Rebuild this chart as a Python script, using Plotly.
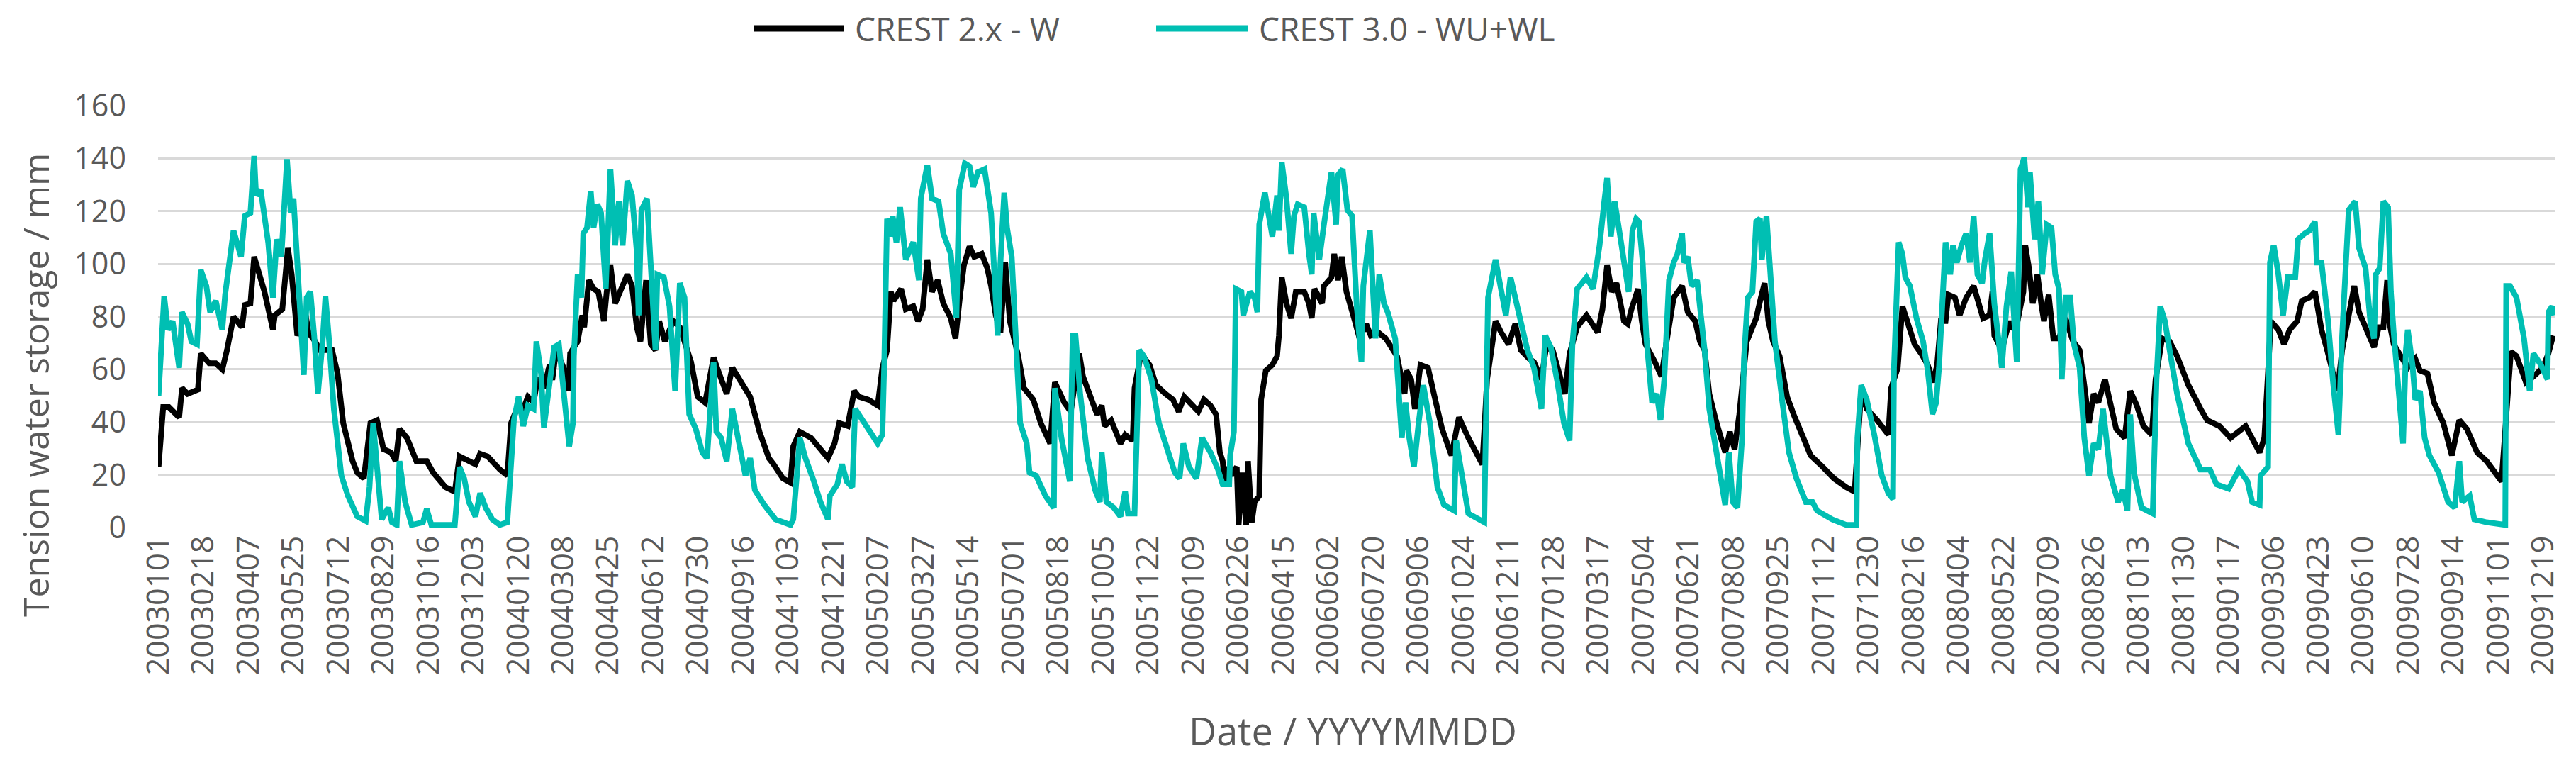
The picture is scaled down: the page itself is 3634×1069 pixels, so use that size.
import pandas as pd
import plotly.graph_objects as go

# ---- data (day offset from 2003-01-01, value in mm) ----
black_day = [0,5,11,22,25,31,42,45,54,61,68,73,80,89,92,98,102,107,113,122,124,132,138,142,146,148,157,160,167,172,180,185,191,197,207,212,219,226,233,240,248,253,257,265,275,286,293,306,316,
             321,328,338,343,351,364,372,376,381,389,394,400,404,412,417,420,424,432,437,439,447,452,454,459,464,469,475,478,482,487,492,500,505,510,514,520,525,530,534,540,549,556,568,575,583,592,598,606,612,621,631,641,651,
             656,666,674,677,684,696,714,721,726,735,742,747,757,767,769,772,777,781,784,792,797,805,810,815,820,825,831,837,845,850,855,859,865,870,878,884,888,893,898,903,908,917,923,933,941,951,956,966,973,
             982,986,991,1001,1006,1009,1016,1026,1031,1039,1041,1048,1057,1064,1074,1082,1088,1094,1109,1115,1122,1128,1132,1135,1137,1142,1146,1150,1152,1156,1160,1162,1166,1169,1174,1176,1181,1188,1193,1195,1198,1203,1208,1213,1222,1227,1230,1233,1241,1243,1251,1254,1258,1262,1267,1271,1276,1281,1288,1293,1301,1309,
             1321,1329,1331,1336,1340,1346,1354,1361,1369,1379,1387,1397,1412,1417,1423,1426,1432,1440,1447,1453,1462,1467,1475,1480,1487,1500,1505,1513,1523,1535,1540,1545,1550,1555,1563,1567,1571,1578,1582,1586,1596,1603,1608,1616,1625,1631,1639,
             1644,1649,1654,1661,1671,1676,1681,1686,1694,1699,1704,1709,1713,1717,1722,1729,1737,1744,1754,1762,1775,1787,1800,1809,1816,1822,1833,1845,1848,1855,1860,1865,1873,1880,1887,1893,1897,1901,1906,1909,1916,1921,1928,1936,1941,1946,1953,1956,1958,1966,1974,
             1976,1981,1989,1991,1995,1999,2004,2008,2011,2016,2021,2027,2034,2042,2049,2054,2059,2064,2069,2076,2082,2088,2097,2103,2110,2117,2126,2130,2137,2145,2153,2165,2178,2185,2198,2210,2226,2233,2241,2246,2250,2253,
             2261,2267,2273,2281,2286,2294,2300,2304,2307,2313,2319,2324,2329,2335,2342,2347,2354,2363,2368,2373,2377,2379,2384,2392,2399,2407,2412,2420,2427,2437,2446,2454,2462,2473,2483,2499,2502,2505,2509,2515,2525,2533,2543,2549,2554]
black_val = [23,45.7,45.7,41.8,52.9,50.7,52.3,66,62.3,62.3,60,67.3,80,76,84.4,85,102.7,97,89.4,75,80.5,82.8,106,96,80.5,72.8,80.5,74,70.6,67.3,67.3,67.3,58.4,39.6,25.2,20.8,18.6,39.6,40.7,29.7,28.5,25.2,37.4,34,25.2,25.2,20.8,15.3,13.6,
             27,25.8,24,28,27,22,19.7,39.6,44,45,49.6,47.4,56,54,61.7,56,67.3,60.6,51.8,66,70.6,80.5,76,93.8,90.5,89.4,78.3,89.4,99.4,85,89.4,96,91.6,76,70.6,93.8,69.5,67.3,78.3,70.6,78.3,76,62.8,49.6,47.4,64.5,58.4,50.7,60.6,55,49.6,36.3,26.3,
             24,18.6,17,30.8,36.3,34,26.3,31.9,39.6,38.5,51.8,49.6,48.5,46.3,51.8,60.6,67.3,89.4,86,90.5,82.8,83.9,78.3,82.8,101.6,89.4,93.8,85,79.4,71.7,88.3,99.4,106.6,102.7,103.8,98.3,91.6,80.5,74,100.5,78.3,65,52.9,48.5,39.6,31.9,55.1,47.4,44,
             66,57.3,52.9,42.9,46.3,38.5,40.7,31.9,35.2,33,52.9,66,61.7,54,50.7,48.5,44,49.6,44,48.5,46.3,42.9,28.5,25.2,16.4,23,20.8,23,1,20.8,1,25.2,2,9.7,12,48.5,59.5,61.7,65,72.8,94.9,85,79.4,89.4,89.4,85,79.4,90.5,85,91.6,94.9,103.8,93.8,102.7,89.4,85,78.3,71.7,77.2,72.8,74,71.7,
             65,50.7,59.5,56.2,45,61.7,60.6,49.6,37.4,27.4,41.8,34,24,56.2,70.6,78.3,74,69.5,77.2,67.3,64,62.8,56.2,68.4,67.3,50.7,66,76,80.5,74,82.8,99.4,89.4,92.7,78.3,77.2,82.8,90.5,78.3,69.5,62.8,57.3,69.5,87.2,91.6,81.7,78.3,
             70.6,67.3,50.7,40.7,28.5,36.3,29.7,42.9,70.6,75.1,79.4,87.2,92.7,78.3,70.6,65,49.6,42.9,34,27.4,23,18.6,15.3,13.6,51.8,45,40.7,35.2,52.9,60.6,83.9,78.3,69.5,66,61.7,55.1,61.7,78.3,78.3,88.3,87.2,80.5,87.2,91.6,86,79.4,80.5,89.4,72.8,67.3,78.3,
             76,75,89.4,107.1,98.3,85,96,85,78.3,88.3,71.7,71.7,79.4,70.6,67.3,54,39.6,50.7,47.4,56.2,47.4,37.4,34,51.8,46.3,38.5,35.2,56.2,71.7,70.6,65,54,45,40.7,38.5,34,38.5,34,28.5,34,56.2,78.3,
             75,69.5,75,78.3,86,87.2,89.4,80.5,75,67.3,59.5,51.8,67.3,79.4,91.6,81.7,76,68.4,76,76,93.8,78.3,69.5,65,60.6,64,59.5,58.4,47.4,39.6,27.4,40.7,37.4,28.5,25.2,17.5,34,45,66.7,65,55.1,57.3,60.6,66,72.8]

cyan_day = [0,6,10,15,22,25,31,35,41,45,51,55,61,68,71,80,88,92,98,102,104,109,117,122,126,131,137,141,144,148,155,158,162,166,170,175,178,182,187,195,202,212,221,225,229,233,238,245,249,254,257,263,270,282,286,291,316,
            321,326,331,338,343,349,356,364,372,379,384,389,394,400,403,408,411,417,422,427,432,438,442,443,447,451,453,457,461,464,468,472,477,482,487,491,495,500,505,510,512,515,521,526,530,532,539,545,551,556,561,566,573,580,585,592,595,600,606,612,619,626,631,636,646,
            658,674,677,684,690,699,706,714,716,724,729,734,740,743,752,759,767,772,774,777,781,783,787,791,797,805,811,813,820,825,832,837,845,851,854,860,865,869,874,881,888,895,898,902,905,910,915,919,926,929,936,946,955,956,963,972,975,978,
            983,991,999,1004,1006,1011,1019,1026,1031,1034,1041,1046,1051,1059,1067,1077,1084,1089,1093,1099,1107,1113,1122,1130,1135,1142,1143,1147,1149,1155,1157,1164,1169,1172,1174,1180,1188,1193,1195,1198,1203,1208,1211,1215,1222,1227,1230,1232,1238,1243,1251,1256,1258,1263,1268,1273,1278,1283,1285,1292,1296,1298,1302,1307,1311,
            1319,1326,1330,1334,1339,1344,1349,1356,1364,1371,1382,1384,1389,1397,1414,1418,1426,1432,1437,1442,1447,1452,1460,1467,1475,1479,1485,1492,1499,1505,1508,1513,1523,1530,1537,1542,1545,1549,1553,1558,1564,1568,1572,1576,1579,1583,1587,1593,1598,1602,1606,1611,1616,1620,1625,1627,1631,1635,1641,
            1649,1654,1659,1664,1671,1675,1679,1684,1689,1691,1695,1700,1704,1708,1710,1715,1719,1724,1732,1739,1747,1757,1764,1769,1785,1800,1811,1812,1816,1822,1830,1838,1845,1850,1851,1856,1860,1863,1868,1875,1882,1887,1892,1896,1899,1902,1906,1911,1914,1918,1923,1928,1932,1936,1940,1945,1948,1953,1958,1966,1971,1976,1982,
            1986,1990,1994,1996,2001,2005,2009,2014,2019,2023,2027,2030,2034,2039,2043,2049,2054,2059,2064,2069,2074,2082,2090,2095,2100,2103,2107,2115,2127,2131,2135,2140,2145,2153,2165,2178,2188,2195,2208,2219,2228,2233,2241,2242,2250,2252,
            2256,2261,2266,2271,2279,2282,2289,2294,2300,2302,2307,2314,2319,2325,2329,2331,2336,2343,2347,2354,2359,2363,2365,2369,2373,2378,2381,2384,2389,2394,2397,2399,2404,2407,2412,2417,2422,2432,2442,2449,2454,2457,2465,2470,2483,2503,2504,2508,2515,2523,2529,2533,2541,2548,2549,2553,2555]
cyan_val = [50,87.7,75,78.3,60.6,81.7,77.2,70.6,69.5,97.7,91.6,81.7,86,75,88.3,112.6,102.7,118.2,119.3,140.9,126,128,108,87.2,109.3,102.7,139.7,119.3,124.8,99.4,57.9,87.2,89.4,72.8,50.7,70.6,87.7,70.6,45,19.7,12,4.2,2.5,15.3,39.6,23,3.1,7.5,2,1,25.2,9.7,1,2,7,1,1,
            23,18.6,9.7,4.2,13,7.5,3.1,1,2,40.7,49.6,38.5,46.3,45,70.6,58.4,38,52.9,68.4,69.5,51.8,30.8,39.6,65,96,87.2,111.5,113.7,127.6,113.7,122.6,119.3,90.5,135.9,107,123.7,107,131.5,126,104.9,80.5,120.4,124.8,89.4,67.3,96,94.9,83.9,51.8,92.7,87.2,43,37.4,28.5,26.3,62.8,36.3,34,25.2,45,30.8,19.7,26.3,14.2,8.6,
            3.1,1,3.1,34,26.3,17.5,9.7,3.1,12,16.4,24,17.5,15.3,45,39.6,36.3,31.9,35.2,61.7,117.1,110.4,118.2,108.2,121.5,101.6,108.2,93.8,124.8,137.5,124.8,123.7,111.5,103.8,79.4,128.1,138.1,137,129.2,134.8,135.9,119.3,72.8,100.5,127,113.7,102.7,67.3,39.6,31.9,20.8,19.7,12,7.5,52.9,34,17.5,72.8,72.8,
            50.7,26.3,14.2,9.7,28.5,9.7,7.5,4.2,13.6,5.3,5.3,67.3,65,56.2,39.6,28.5,20.8,18.6,31.9,23,18.6,34,28.5,22,16.4,16.4,27.4,36.3,90.5,89.4,80.5,89.4,87.2,81.7,114.9,127,110.4,125.9,112.6,138.6,124.8,103.8,118.2,122.6,121.5,103.8,96,119.3,101.6,114.9,134.8,114.9,133.7,135.9,120.4,118.2,83.9,62.8,91.6,112.6,85,71.7,96,85,81.7,
            71.7,34,47.4,34,23,39.6,54,39.6,15.3,8.6,6.4,33,23,5.3,2,87.2,101.6,89.4,80.5,94.9,87.2,80.5,67.3,60.6,45,72.8,68.4,55.1,39.6,33,69.5,90.5,94.9,90.5,107.1,123.7,132.6,110.4,123.7,112.6,98.3,89.4,112.6,117.1,116,100.5,71.7,47.4,50.7,40.7,56.2,93.8,100.5,103.8,111.5,100.5,102.7,91.6,93.8,
            67.3,45,34,23,8.6,28.5,9.7,7.5,34,64,87.2,89.4,116,117.1,101.6,118.2,93.8,70.6,47.4,28.5,18.6,9.7,9.7,6.4,3.1,1,1,34,54,48.5,35.2,19.7,13,10.8,60.6,108.2,103.8,94.9,91.6,79.4,70.6,59.5,43,47.4,60.6,80.5,108.2,96,107.1,100.5,107.1,111.5,100.5,118.2,96,92.7,101.6,111.5,85,60.6,83.9,97.1,62.8,
            135.9,140.3,121.5,134.8,109.3,123.7,96,114.9,113.7,96,90.5,56.2,87.2,87.2,69.5,60.6,34,19.7,31.9,29.7,45,19.7,9.7,14.2,6.4,42.9,20.8,7.5,5.3,56.2,83.9,78.3,67.3,50.7,31.9,22,22,16.4,14.7,22,17.5,9.7,8.6,19.7,23,100.5,
            107.1,96,80.5,94.9,94.9,109.3,111.5,112.6,116,100.5,100.5,78.3,56.2,35.2,72.8,89.4,120.4,123.7,106,98.3,78.3,71.7,96,98.3,123.7,121.5,89.4,73.9,54,31.9,67.3,75,61.7,48.5,51.8,34,27.4,20.8,9.7,7.5,25.2,9.7,12,3.1,2,1,91.6,91.6,87.2,71.7,51.8,66,61.7,56.2,81.7,83.9,80.5]

tick_labels = ["20030101","20030218","20030407","20030525","20030712","20030829","20031016","20031203",
               "20040120","20040308","20040425","20040612","20040730","20040916","20041103","20041221",
               "20050207","20050327","20050514","20050701","20050818","20051005","20051122","20060109",
               "20060226","20060415","20060602","20060720","20060906","20061024","20061211","20070128",
               "20070317","20070504","20070621","20070808","20070925","20071112","20071230","20080216",
               "20080404","20080522","20080709","20080826","20081013","20081130","20090117","20090306",
               "20090423","20090610","20090728","20090914","20091101","20091219"]
y_ticks = [0, 20, 40, 60, 80, 100, 120, 140, 160]

series_names = ["CREST 2.x - W", "CREST 3.0 - WU+WL"]
series_colors = ["#000000", "#00BFB3"]

start = pd.Timestamp("2003-01-01")
black_x = start + pd.to_timedelta(black_day, unit="D")
cyan_x = start + pd.to_timedelta(cyan_day, unit="D")
tick_x = pd.to_datetime(tick_labels, format="%Y%m%d")

W, H = 3634, 1069
L, R, T, B = 215, 37, 141, 333
plot_w = W - L - R
plot_h = H - T - B

def px_x(X):
    return (X - L) / plot_w

def px_y(Y):
    return (H - B - Y) / plot_h

font_fam = "Open Sans, Noto Sans, DejaVu Sans, sans-serif"
txt_col = "#595959"

fig = go.Figure()
fig.add_trace(go.Scatter(x=black_x, y=black_val, mode="lines", name=series_names[0],
                         line=dict(color=series_colors[0], width=8), showlegend=False))
fig.add_trace(go.Scatter(x=cyan_x, y=cyan_val, mode="lines", name=series_names[1],
                         line=dict(color=series_colors[1], width=8), showlegend=False))

# custom legend (long line samples as in the reference)
leg_y = px_y(32)
legend_items = [(1055, 1182, 1196), (1623, 1752, 1766)]
shapes = []
annotations = []
for (x0, x1, xt), name, col in zip(legend_items, series_names, series_colors):
    shapes.append(dict(type="line", xref="paper", yref="paper", x0=px_x(x0), x1=px_x(x1),
                       y0=leg_y, y1=leg_y, line=dict(color=col, width=9)))
    annotations.append(dict(text=name, xref="paper", yref="paper", x=px_x(xt), y=leg_y,
                            xanchor="left", yanchor="middle", showarrow=False,
                            font=dict(family=font_fam, size=46, color=txt_col)))

annotations.append(dict(text="Tension water storage / mm", xref="paper", yref="paper",
                        x=px_x(42), y=px_y(535), textangle=-90, xanchor="center", yanchor="middle",
                        showarrow=False, font=dict(family=font_fam, size=50, color=txt_col)))
annotations.append(dict(text="Date / YYYYMMDD", xref="paper", yref="paper",
                        x=px_x(1900), y=px_y(1022), xanchor="center", yanchor="middle",
                        showarrow=False, font=dict(family=font_fam, size=54, color=txt_col)))

fig.update_layout(
    width=W, height=H,
    margin=dict(l=L, r=R, t=T, b=B, pad=0),
    paper_bgcolor="white", plot_bgcolor="white",
    shapes=shapes, annotations=annotations,
    showlegend=False,
    font=dict(family=font_fam, color=txt_col),
)
fig.update_xaxes(
    type="date",
    range=[start - pd.Timedelta(hours=12), pd.Timestamp("2009-12-31") + pd.Timedelta(hours=12)],
    tickmode="array", tickvals=tick_x, ticktext=tick_labels, tickangle=-90,
    tickfont=dict(family=font_fam, size=43, color=txt_col),
    showgrid=False, zeroline=False, showline=False, ticks="", ticklabelstandoff=2,
)
fig.update_yaxes(
    range=[0, 160], tickmode="array", tickvals=y_ticks,
    tickfont=dict(family=font_fam, size=43, color=txt_col),
    showgrid=True, gridcolor="#D9D9D9", gridwidth=3,
    zeroline=False, showline=False, ticks="", ticklabelstandoff=44,
)

fig.write_html("out.html")
